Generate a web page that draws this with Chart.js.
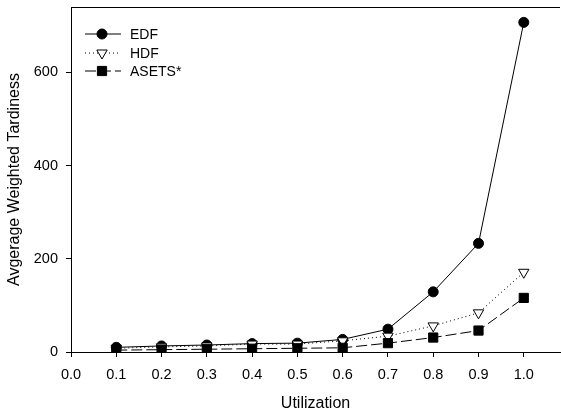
<!DOCTYPE html>
<html>
<head>
<meta charset="utf-8">
<script src="https://cdn.jsdelivr.net/npm/chart.js@4/dist/chart.umd.min.js"></script>
<style>
  html, body { margin: 0; padding: 0; background: #fff; }
  #wrap { width: 561px; height: 413px; }
</style>
</head>
<body>
<div id="wrap"><canvas id="c" width="561" height="413"></canvas></div>
<script>
const utilization = [0.1, 0.2, 0.3, 0.4, 0.5, 0.6, 0.7, 0.8, 0.9, 1.0];
const edf = [10, 13, 15, 18, 19, 27, 49, 129, 233, 707];
const hdf = [8, 11, 13, 17, 17, 24, 34, 56, 84, 171];
const asets = [4, 5, 6, 7, 8, 9, 19, 31, 46, 116];
const xTicks = [0, 0.1, 0.2, 0.3, 0.4, 0.5, 0.6, 0.7, 0.8, 0.9, 1.0];
const yTicks = [0, 200, 400, 600];

const toPoints = (vals) => vals.map((v, i) => ({ x: utilization[i], y: v }));

const FONT = '"Liberation Sans", Arial, sans-serif';

// little legend drawn inside the plot, top left
const sampleLegend = {
    id: 'sampleLegend',
    afterDraw(chart) {
        const ctx = chart.ctx;
        const rows = [34, 53, 71];
        chart.data.datasets.forEach((ds, i) => {
            const y = rows[i];
            ctx.save();
            ctx.strokeStyle = '#000';
            ctx.lineWidth = 1;
            ctx.setLineDash(ds.borderDash || []);
            ctx.beginPath();
            ctx.moveTo(85, y);
            ctx.lineTo(121, y);
            ctx.stroke();
            ctx.setLineDash([]);
            ctx.fillStyle = ds.pointBackgroundColor;
            ctx.strokeStyle = '#000';
            Chart.helpers.drawPoint(ctx, {
                pointStyle: ds.pointStyle,
                rotation: ds.pointRotation || 0,
                radius: ds.pointRadius,
                borderWidth: 1
            }, 102, y);
            ctx.fillStyle = '#000';
            ctx.font = '14px ' + FONT;
            ctx.textBaseline = 'middle';
            ctx.fillText(ds.label, 130, y + 1);
            ctx.restore();
        });
    }
};

// top edge of the frame
const topLine = {
    id: 'topLine',
    afterDraw(chart) {
        const { ctx, chartArea } = chart;
        ctx.save();
        ctx.strokeStyle = '#000';
        ctx.lineWidth = 1;
        ctx.beginPath();
        ctx.moveTo(chartArea.left, chartArea.top + 0.5);
        ctx.lineTo(chartArea.right, chartArea.top + 0.5);
        ctx.stroke();
        ctx.restore();
    }
};

const tickFont = { family: FONT, size: 14.5 };
const titleFont = { family: FONT, size: 16 };

new Chart(document.getElementById('c'), {
    type: 'line',
    data: {
        datasets: [
            {
                label: 'EDF',
                data: toPoints(edf),
                borderColor: '#000',
                borderWidth: 1,
                pointStyle: 'circle',
                pointRadius: 5,
                pointBackgroundColor: '#000',
                pointBorderColor: '#000',
                order: 3
            },
            {
                label: 'HDF',
                data: toPoints(hdf),
                borderColor: '#000',
                borderWidth: 1,
                borderDash: [1, 3],
                pointStyle: 'triangle',
                pointRotation: 180,
                pointRadius: 6,
                pointBackgroundColor: '#fff',
                pointBorderColor: '#000',
                order: 2
            },
            {
                label: 'ASETS*',
                data: toPoints(asets),
                borderColor: '#000',
                borderWidth: 1,
                borderDash: [11, 4],
                pointStyle: 'rect',
                pointRadius: 6.5,
                pointBackgroundColor: '#000',
                pointBorderColor: '#000',
                order: 1
            }
        ]
    },
    options: {
        responsive: false,
        animation: false,
        layout: { autoPadding: false, padding: { top: 7, right: 1, left: 0, bottom: 0 } },
        plugins: {
            legend: { display: false },
            tooltip: { enabled: false }
        },
        scales: {
            x: {
                type: 'linear',
                min: 0,
                max: 1.08,
                afterBuildTicks: (scale) => { scale.ticks = xTicks.map(v => ({ value: v })); },
                afterFit: (scale) => {
                    scale.height = 61;
                    scale.paddingLeft = 0;
                    scale.paddingRight = 0;
                },
                ticks: {
                    color: '#000',
                    font: tickFont,
                    padding: 9,
                    maxRotation: 0,
                    callback: (v) => Number(v).toFixed(1)
                },
                grid: {
                    display: true,
                    drawOnChartArea: false,
                    tickLength: 5,
                    color: '#000'
                },
                border: { display: true, color: '#000', width: 1 },
                title: {
                    display: true,
                    text: 'Utilization',
                    color: '#000',
                    font: titleFont,
                    padding: { top: 0, bottom: 0 }
                }
            },
            y: {
                min: 0,
                max: 740,
                afterBuildTicks: (scale) => { scale.ticks = yTicks.map(v => ({ value: v })); },
                afterFit: (scale) => {
                    scale.width = 71;
                    scale.paddingTop = 0;
                    scale.paddingBottom = 0;
                },
                ticks: {
                    color: '#000',
                    font: tickFont,
                    padding: 8
                },
                grid: {
                    display: true,
                    drawOnChartArea: false,
                    tickLength: 5,
                    color: '#000'
                },
                border: { display: true, color: '#000', width: 1 },
                title: {
                    display: true,
                    text: 'Avgerage Weighted Tardiness',
                    color: '#000',
                    font: titleFont,
                    padding: { top: 5, bottom: 0 }
                }
            }
        }
    },
    plugins: [sampleLegend, topLine]
});
</script>
</body>
</html>
